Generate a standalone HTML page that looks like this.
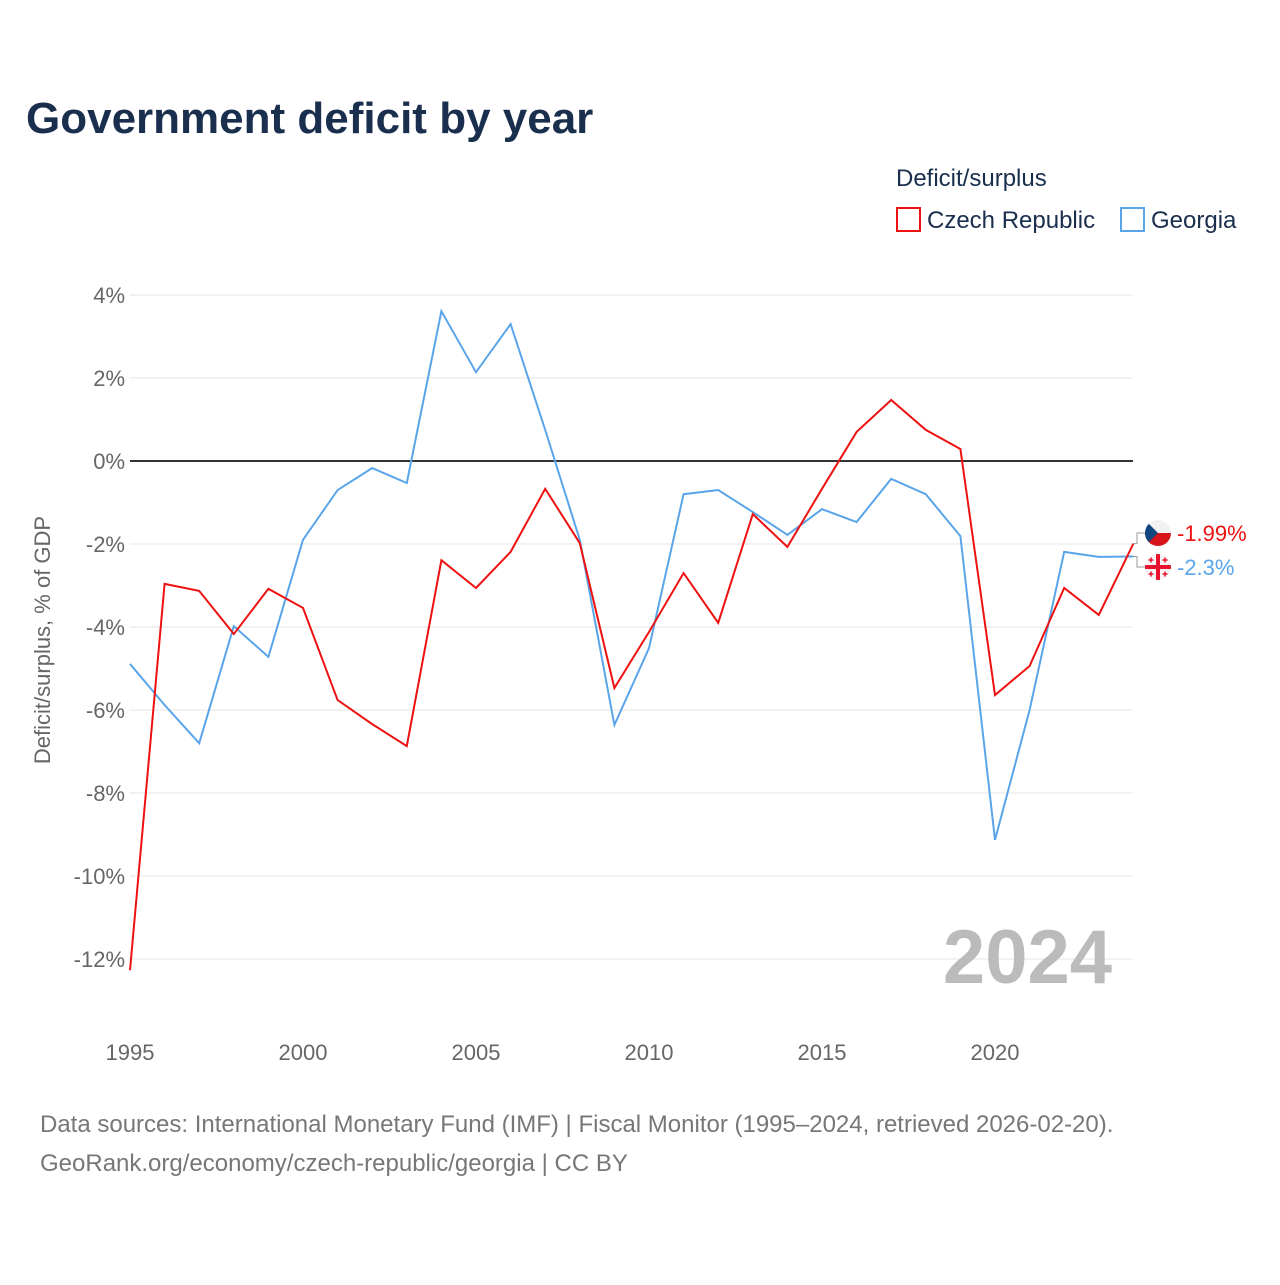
<!DOCTYPE html>
<html><head><meta charset="utf-8"><style>
body{margin:0;background:#fff;font-family:"Liberation Sans",sans-serif}
svg text{font-family:"Liberation Sans",sans-serif}
</style></head><body>
<svg id="c" width="1280" height="1280">
<defs>
<clipPath id="cz"><circle id="czc" cx="1158" cy="533" r="13"/></clipPath>
<clipPath id="ge"><circle id="gec" cx="1158" cy="567" r="13"/></clipPath>
</defs>
<text x="26" y="133" font-size="44" font-weight="bold" fill="#1a2e4d">Government deficit by year</text>
<text x="896" y="186" font-size="24" fill="#1a2e4d">Deficit/surplus</text>
<g><rect x="897" y="208" width="23" height="23" fill="none" stroke="#ee1111" stroke-width="2"/><text x="927" y="228" font-size="24" fill="#1a2e4d">Czech Republic</text></g>
<g><rect x="1121" y="208" width="23" height="23" fill="none" stroke="#5aa5ea" stroke-width="2"/><text x="1151" y="228" font-size="24" fill="#1a2e4d">Georgia</text></g>
<text transform="translate(50,640) rotate(-90)" text-anchor="middle" font-size="22" fill="#666">Deficit/surplus, % of GDP</text>
<g id="grid"></g>
<text x="1112" y="983" text-anchor="end" font-size="76" font-weight="bold" fill="#bbb">2024</text>
<g id="lines"></g>
<text x="40" y="1132" font-size="24" fill="#777">Data sources: International Monetary Fund (IMF) | Fiscal Monitor (1995–2024, retrieved 2026-02-20).</text>
<text x="40" y="1171" font-size="24" fill="#777">GeoRank.org/economy/czech-republic/georgia | CC BY</text>
</svg>
<script>
const years=[1995,1996,1997,1998,1999,2000,2001,2002,2003,2004,2005,2006,2007,2008,2009,2010,2011,2012,2013,2014,2015,2016,2017,2018,2019,2020,2021,2022,2023,2024];
const czech=[-12.27,-2.96,-3.13,-4.17,-3.08,-3.54,-5.76,-6.34,-6.87,-2.39,-3.06,-2.19,-0.67,-1.98,-5.47,-4.12,-2.70,-3.90,-1.28,-2.07,-0.67,0.70,1.47,0.75,0.29,-5.64,-4.94,-3.06,-3.71,-1.99];
const georgia=[-4.89,-5.88,-6.80,-3.98,-4.72,-1.90,-0.70,-0.17,-0.53,3.61,2.14,3.30,0.75,-1.90,-6.36,-4.51,-0.80,-0.70,-1.23,-1.78,-1.16,-1.47,-0.43,-0.80,-1.81,-9.13,-6.00,-2.19,-2.31,-2.30];
const yTicks=[4,2,0,-2,-4,-6,-8,-10,-12];
const xTicks=[1995,2000,2005,2010,2015,2020];
const NS="http://www.w3.org/2000/svg";
const X=y=>130+(y-1995)*34.6;
const Y=v=>461-v*41.5;
function mk(t,a,p){const e=document.createElementNS(NS,t);for(const k in a)e.setAttribute(k,a[k]);p.appendChild(e);return e;}
const g=document.getElementById('grid');
yTicks.forEach(v=>{
 const l=mk('line',{x1:130,x2:1133,y1:Y(v),y2:Y(v),stroke:v===0?'#333':'#e6e6e6','stroke-width':v===0?2:1},g);
 
 
 const t=mk('text',{x:125,y:Y(v)+8,'text-anchor':'end','font-size':22,fill:'#666'},g);
 t.textContent=v+'%';
 
 
});
xTicks.forEach(v=>{
 const t=mk('text',{x:X(v),y:1060,'text-anchor':'middle','font-size':22,fill:'#666'},g);
 t.textContent=v;
 
 
});
const L=document.getElementById('lines');
function line(data,col,name){
 const p=mk('polyline',{points:data.map((v,i)=>X(years[i])+','+Y(v)).join(' '),fill:'none',stroke:col,'stroke-width':2},L);
 
 
}
line(georgia,'#5aa5ea','georgia-line');
line(czech,'#ee1111','czech-line');
const last=years.length-1;
const ey1=Y(czech[last]), ey2=Y(georgia[last]);
const mid=(ey1+ey2)/2;
const cy=mid-17, gy=mid+17;
document.getElementById('czc').setAttribute('cy',cy);
document.getElementById('gec').setAttribute('cy',gy);
mk('polyline',{points:`1133,${ey1} 1137,${ey1} 1137,${cy} 1145,${cy}`,fill:'none',stroke:'#999','stroke-width':1},L);
mk('polyline',{points:`1133,${ey2} 1137,${ey2} 1137,${gy} 1145,${gy}`,fill:'none',stroke:'#999','stroke-width':1},L);
const f1=mk('g',{'clip-path':'url(#cz)'},L);


mk('rect',{x:1145,y:cy-13,width:26,height:13,fill:'#f2f2f2'},f1);
mk('rect',{x:1145,y:cy,width:26,height:13,fill:'#d7141a'},f1);
mk('path',{d:`M1145,${cy-13} L1158,${cy} L1145,${cy+13} Z`,fill:'#11457e'},f1);
const f2=mk('g',{'clip-path':'url(#ge)'},L);


mk('rect',{x:1145,y:gy-13,width:26,height:26,fill:'#f4f4f4'},f2);
mk('rect',{x:1145,y:gy-2,width:26,height:4,fill:'#e8112d'},f2);
mk('rect',{x:1156,y:gy-13,width:4,height:26,fill:'#e8112d'},f2);
[[-7,-7],[7,-7],[-7,7],[7,7]].forEach(([dx,dy])=>{
 mk('rect',{x:1158+dx-2.5,y:gy+dy-0.75,width:5,height:1.5,fill:'#e8112d'},f2);
 mk('rect',{x:1158+dx-0.75,y:gy+dy-2.5,width:1.5,height:5,fill:'#e8112d'},f2);
});
const t1=mk('text',{x:1177,y:cy+8,'font-size':22,fill:'#ee1111'},L);
t1.textContent=czech[last]+'%';


const t2=mk('text',{x:1177,y:gy+8,'font-size':22,fill:'#5aa5ea'},L);
t2.textContent=georgia[last]+'%';


</script>
</body></html>
